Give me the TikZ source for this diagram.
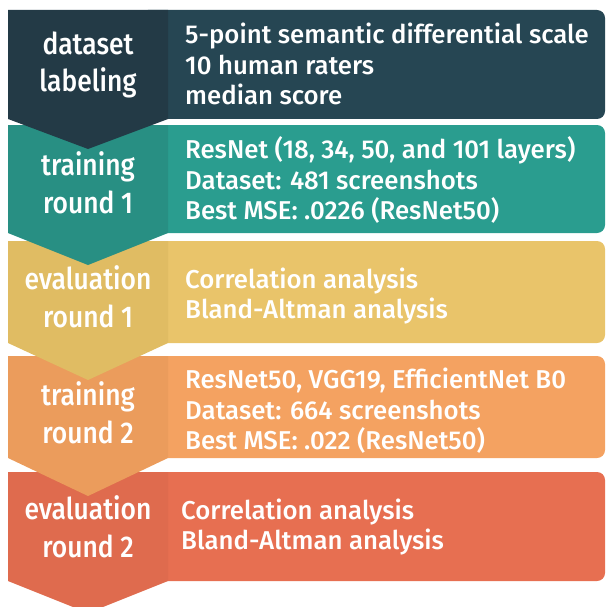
\documentclass[tikz,border=0pt]{standalone}
\usepackage{fontspec}
\setmainfont{Fira Sans}[UprightFont={* Medium}]
\newfontfamily\labelfont{Fira Sans}[UprightFont={* Medium},FakeStretch=0.88]
\definecolor{boxA}{HTML}{264653}\definecolor{chevA}{HTML}{233A46}
\definecolor{boxB}{HTML}{2A9D8F}\definecolor{chevB}{HTML}{288F83}
\definecolor{boxC}{HTML}{E9C46A}\definecolor{chevC}{HTML}{E0BC63}
\definecolor{boxD}{HTML}{F4A261}\definecolor{chevD}{HTML}{EB9C5C}
\definecolor{boxE}{HTML}{E76F51}\definecolor{chevE}{HTML}{DF6B4E}
\tikzset{
  detailbox/.style={rounded corners=8pt},
  steplabel/.style={text=white,align=center,font=\labelfont\fontsize{30}{37.5}\selectfont,inner sep=0pt},
  detailtext/.style={text=white,align=left,anchor=west,font=\fontsize{25.8}{30.5}\selectfont,inner sep=0pt},
}
% detail panel: top, bottom, colour
\newcommand{\detailpanel}[3]{\fill[#3,detailbox] (140,#1) rectangle (605,#2);}
% chevron: top, bottom, tip depth, colour
\newcommand{\chevron}[4]{\fill[#4] (8,#1) -- (168,#1) -- (168,#2) -- (88,#2+#3) -- (8,#2) -- cycle;}
\begin{document}
\begin{tikzpicture}[x=1pt,y=-1pt]
\useasboundingbox (0,0) rectangle (606,607);
\begin{scope}
\clip (0,0) rectangle (606,607);
\detailpanel{10}{119}{boxA}
\detailpanel{125}{233}{boxB}
\detailpanel{241}{343}{boxC}
\detailpanel{356}{458}{boxD}
\detailpanel{472}{581}{boxE}
% lower chevrons first, so each tip lies over the next step
\chevron{472}{581}{32}{chevE}
\chevron{356}{458}{38}{chevD}
\chevron{241}{343}{37}{chevC}
\chevron{125}{233}{32}{chevB}
\chevron{10}{119}{30}{chevA}
\end{scope}
\node[steplabel] (s1) at (88,65) {dataset\\labeling};
\node[steplabel] (s2) at (88,183) {training\\round 1};
\node[steplabel] (s3) at (88,297) {evaluation\\round 1};
\node[steplabel] (s4) at (88,413) {training\\round 2};
\node[steplabel] (s5) at (88,527) {evaluation\\round 2};
\node[detailtext] (d1) at (185,64) {5-point semantic differential scale\\10 human raters\\median score};
\node[detailtext] (d2) at (185,180) {ResNet (18, 34, 50, and 101 layers)\\Dataset: 481 screenshots\\Best MSE: .0226 (ResNet50)};
\node[detailtext] (d3) at (185,296) {Correlation analysis\\Bland-Altman analysis};
\node[detailtext] (d4) at (185,411) {ResNet50, VGG19, EfficientNet B0\\Dataset: 664 screenshots\\Best MSE: .022 (ResNet50)};
\node[detailtext] (d5) at (181,527) {Correlation analysis\\Bland-Altman analysis};
\end{tikzpicture}
\end{document}
